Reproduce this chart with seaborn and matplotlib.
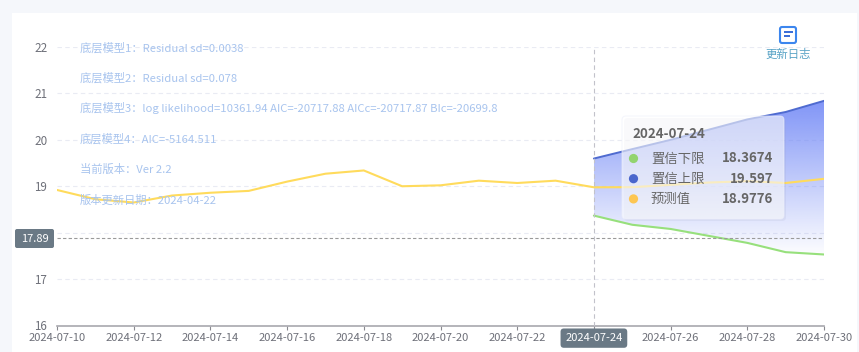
import numpy as np
import pandas as pd
import matplotlib
matplotlib.use('Agg')
import matplotlib.pyplot as plt
import matplotlib.dates as mdates
from matplotlib.colors import to_rgb
from matplotlib.patches import FancyBboxPatch, Rectangle
from matplotlib.transforms import Affine2D
import seaborn as sns

# data
dates_all = pd.date_range('2024-07-10', '2024-07-30').strftime('%Y-%m-%d').tolist()
pred = [18.92, 18.72, 18.65, 18.80, 18.86, 18.90, 19.10, 19.27, 19.34, 19.00, 19.02,
        19.12, 19.07, 19.12, 18.9776, 18.98, 19.03, 19.08, 19.11, 19.07, 19.16]
dates_band = dates_all[14:]
upper = [19.597, 19.80, 20.00, 20.22, 20.44, 20.60, 20.84]
lower = [18.3674, 18.17, 18.08, 17.93, 17.78, 17.58, 17.53]
ref_value = 17.89
focus_date = '2024-07-24'
y_ticks = [16, 17, 18, 19, 20, 21, 22]
y_labels = ['16', '17', '', '19', '20', '21', '22']  # 18 sits behind the 17.89 pointer
notes = ['底层模型1：Residual sd=0.0038',
         '底层模型2：Residual sd=0.078',
         '底层模型3：log likelihood=10361.94 AIC=-20717.88 AICc=-20717.87 BIc=-20699.8',
         '底层模型4：AIC=-5164.511',
         '当前版本：Ver 2.2',
         '版本更新日期：2024-04-22']
tip_names = ['置信下限', '置信上限', '预测值']
tip_values = ['18.3674', '19.597', '18.9776']
tip_colors = ['#93d46f', '#4a66cc', '#fdc652']

sns.set_theme(style='white')
plt.rcParams['font.family'] = ['Noto Sans CJK SC', 'DejaVu Sans']

W, H = 859, 352
fig = plt.figure(figsize=(W / 100, H / 100), dpi=100, facecolor='#f5f7fb')
# pixel coordinates of the reference, y pointing down
px = Affine2D().scale(1 / W, -1 / H).translate(0, 1) + fig.transFigure

fig.add_artist(Rectangle((12, 13), 845, 339, transform=px, fc='white', ec='none', zorder=-1))

ax = fig.add_axes([57 / W, 1 - 325.5 / H, 767 / W, 278.5 / H], zorder=1)
ax.patch.set_alpha(0)

df_pred = pd.DataFrame({'date': pd.to_datetime(dates_all), 'value': pred})
df_band = pd.DataFrame({'date': pd.to_datetime(dates_band), 'upper': upper, 'lower': lower})

ax.set_ylim(16, 22)
ax.set_xlim(df_pred['date'].iloc[0], df_pred['date'].iloc[-1])
xlim = ax.get_xlim()

# vertical gradient, clipped to the band
poly = ax.fill_between(df_band['date'], df_band['lower'], df_band['upper'], alpha=0, lw=0)
grad = np.zeros((256, 1, 4))
grad[:, 0, :3] = to_rgb('#6f86f6')
grad[:, 0, 3] = np.linspace(0.88, 0.02, 256)
im = ax.imshow(grad, extent=[mdates.date2num(df_band['date'].iloc[0]), mdates.date2num(df_band['date'].iloc[-1]),
                             min(lower), max(upper)], aspect='auto', zorder=2)
im.set_clip_path(poly.get_paths()[0], transform=ax.transData)
ax.set_xlim(xlim)
ax.set_ylim(16, 22)

sns.lineplot(data=df_band, x='date', y='upper', color='#4f6bd0', lw=1.4, ax=ax, zorder=3)
sns.lineplot(data=df_band, x='date', y='lower', color='#97e07c', lw=1.5, ax=ax, zorder=3)
sns.lineplot(data=df_pred, x='date', y='value', color='#ffdb5c', lw=1.5, ax=ax, zorder=3)
ax.set_xlabel('')
ax.set_ylabel('')

for v in y_ticks[1:]:
    ax.axhline(v, color='#e9ebf3', lw=0.8, dashes=(4, 3), zorder=1)
ax.axhline(ref_value, color='#9a9a9a', lw=0.8, dashes=(3, 2), zorder=4)
ax.axvline(pd.Timestamp(focus_date), color='#c2c2ca', lw=0.8, dashes=(4, 3), zorder=4)

for s in ['top', 'left', 'right']:
    ax.spines[s].set_visible(False)
ax.spines['bottom'].set_color('#a8a8ae')
ax.spines['bottom'].set_linewidth(1.2)

ax.set_yticks(y_ticks, y_labels)
ax.tick_params(axis='y', length=0, pad=7, labelsize=8.4, labelcolor='#6e7079')
ax.xaxis.set_major_locator(mdates.DayLocator(bymonthday=range(10, 31, 2)))
ax.xaxis.set_major_formatter(mdates.DateFormatter('%Y-%m-%d'))
ax.tick_params(axis='x', bottom=True, length=3, width=0.8, color='#8a8a90', pad=2.5, labelsize=8, labelcolor='#6e7079')
fig.canvas.draw()
for lab in ax.get_xticklabels():
    if lab.get_text() == focus_date:
        lab.set_color('white')
        lab.set_bbox(dict(boxstyle='round,pad=0.42,rounding_size=0.3', fc='#6a7985', ec='none'))

# y pointer label
fig.add_artist(FancyBboxPatch((16, 230), 37, 17, boxstyle='round,pad=1,rounding_size=2',
                              transform=px, fc='#6a7985', ec='none', zorder=6))
fig.text(34.5, 238.5, '17.89', transform=px, color='white', fontsize=8, ha='center', va='center', zorder=7)

# notes
for i, note in enumerate(notes):
    fig.text(80, 47.5 + i * 30.5, note, transform=px, color='#a8c4ee', fontsize=8.15, va='center', zorder=5)

# update log icon
fig.add_artist(FancyBboxPatch((780, 27), 16, 16, boxstyle='round,pad=0,rounding_size=2',
                              transform=px, fc='white', ec='#3c86ee', lw=1.5, zorder=6))
fig.add_artist(Rectangle((784, 31), 9, 2, transform=px, fc='#3c6fd8', ec='none', zorder=7))
fig.add_artist(Rectangle((784, 35), 6, 2, transform=px, fc='#3c6fd8', ec='none', zorder=7))
fig.text(788, 54.5, '更新日志', transform=px, color='#58a3c6', fontsize=8.2, ha='center', va='center', zorder=7)

# tooltip
fig.add_artist(FancyBboxPatch((624, 118), 162, 103, boxstyle='round,pad=0,rounding_size=4',
                              transform=px, fc='#8f96b8', ec='none', alpha=0.12, zorder=8))
fig.add_artist(FancyBboxPatch((622, 116), 162, 103, boxstyle='round,pad=0,rounding_size=4',
                              transform=px, fc='white', ec='#eef0fa', lw=0.8, alpha=0.58, zorder=9))
fig.text(632.5, 133.5, focus_date, transform=px, color='#666666', fontsize=9.6, fontweight='bold',
         va='center', zorder=10)
for i in range(3):
    y = 158.5 + i * 20.2
    fig.add_artist(plt.Circle((633.5, y), 4.6, transform=px, fc=tip_colors[i], ec='none', zorder=10))
    fig.text(651, y, tip_names[i], transform=px, color='#666666', fontsize=9.6, va='center', zorder=10)
    fig.text(773, y, tip_values[i], transform=px, color='#666666', fontsize=9.6, fontweight='bold',
             ha='right', va='center', zorder=10)

fig.savefig('out.png', dpi=100, facecolor=fig.get_facecolor())
